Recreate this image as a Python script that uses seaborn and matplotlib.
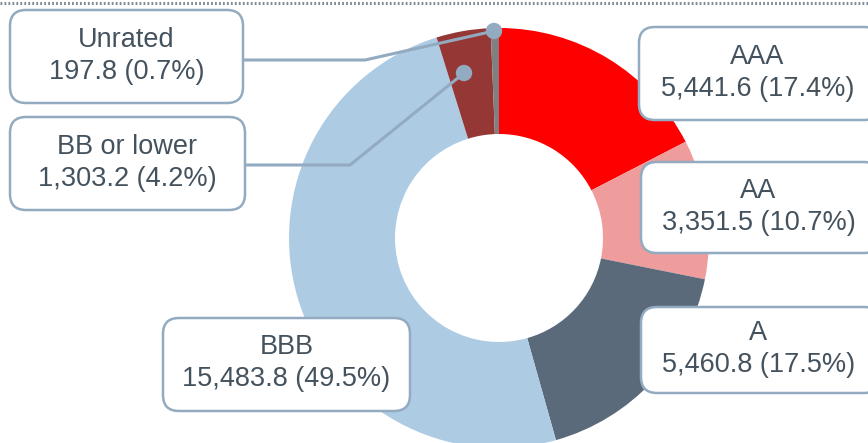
import matplotlib
matplotlib.use("Agg")
import matplotlib.pyplot as plt
import seaborn as sns
from matplotlib.patches import FancyBboxPatch, Circle

# data
ratings = ['AAA', 'AA', 'A', 'BBB', 'BB or lower', 'Unrated']
amounts = [5441.6, 3351.5, 5460.8, 15483.8, 1303.2, 197.8]
shares = [17.4, 10.7, 17.5, 49.5, 4.2, 0.7]
colors = ['#ff0000', '#ee9c9c', '#5b6a7a', '#aecbe4', '#953735', '#808080']

sns.set_theme(style='white')
plt.rcParams['font.family'] = ['Liberation Sans', 'DejaVu Sans']

W, H = 868, 443
fig = plt.figure(figsize=(W / 100, H / 100), dpi=100)
ax = fig.add_axes([0, 0, 1, 1])

# donut, clockwise from 12 o'clock
cx, cy, r = 499, H - 238, 210
ax.pie(amounts, colors=colors, startangle=90, counterclock=False,
       radius=r, center=(cx, cy), frame=False,
       wedgeprops=dict(width=106, linewidth=0))

ax.set_xlim(0, W)
ax.set_ylim(0, H)
ax.set_aspect('equal')
ax.axis('off')

# dotted rule along the top
ax.plot([0, W], [H - 2.5, H - 2.5], color='#7f8d9a', lw=2.2,
        linestyle=(0, (0.6, 0.7)), solid_capstyle='butt')

edge = '#93abc0'
txt = '#44525e'

# label boxes (x0, y0, x1, y1) in image pixels
boxes = {
    'AAA': (639, 27, 880, 120),
    'AA': (641, 162, 880, 253),
    'A': (641, 307, 880, 393),
    'BBB': (163, 318, 410, 411),
    'BB or lower': (10, 117, 245, 210),
    'Unrated': (10, 10, 243, 103),
}

for name, amt, pct in zip(ratings, amounts, shares):
    x0, y0, x1, y1 = boxes[name]
    box = FancyBboxPatch((x0, H - y1), x1 - x0, y1 - y0,
                         boxstyle='round,pad=0,rounding_size=16',
                         fc='white', ec=edge, lw=1.8, zorder=5)
    ax.add_patch(box)
    ax.text((x0 + x1) / 2 if x1 < W else (x0 + W) / 2 + 4, H - (y0 + y1) / 2 + 1,
            f'{name}\n{amt:,.1f} ({pct:.1f}%)',
            ha='center', va='center', fontsize=19.5, color=txt,
            linespacing=1.3, zorder=6)

# leader lines for the two thin slices
leaders = [
    [(243, 60), (365, 60), (494, 31)],
    [(245, 165), (350, 165), (464, 73)],
]
for pts in leaders:
    xs = [p[0] for p in pts]
    ys = [H - p[1] for p in pts]
    ax.plot(xs, ys, color=edge, lw=2.2, zorder=4)
    ax.add_patch(Circle((xs[-1], ys[-1]), 7.5, color=edge, zorder=4))

fig.savefig('out.png', dpi=100)
